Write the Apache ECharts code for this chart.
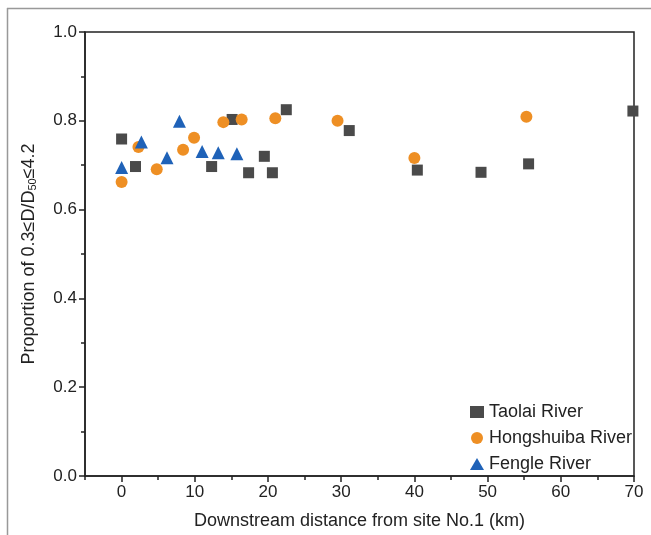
<!DOCTYPE html>
<html><head><meta charset="utf-8">
<script src="https://cdn.jsdelivr.net/npm/echarts@6/dist/echarts.min.js"></script>
<style>html,body{margin:0;padding:0;background:#fff}#c{width:651px;height:535px}</style>
</head><body><div id="c"></div>
<script>
const taolaiX = [0, 1.9, 12.3, 15.1, 17.35, 19.5, 20.6, 22.5, 31.1, 40.4, 49.1, 55.6, 69.85];
const taolaiY = [0.759, 0.697, 0.697, 0.803, 0.683, 0.720, 0.683, 0.825, 0.778, 0.689, 0.684, 0.703, 0.822];
const hongX = [0, 2.3, 4.8, 8.4, 9.9, 13.9, 16.4, 21.0, 29.5, 40.0, 55.3];
const hongY = [0.662, 0.741, 0.691, 0.735, 0.762, 0.797, 0.803, 0.806, 0.800, 0.716, 0.809];
const fengX = [0, 2.7, 6.2, 7.9, 11.0, 13.2, 15.75];
const fengY = [0.695, 0.752, 0.717, 0.799, 0.731, 0.728, 0.726];
const xMajor = [0, 10, 20, 30, 40, 50, 60, 70];
const xMinor = [-5, 5, 15, 25, 35, 45, 55, 65];
const seriesNames = ['Taolai River', 'Hongshuiba River', 'Fengle River'];

const font = 'Liberation Sans, Arial, sans-serif';
const zip = (xs, ys) => xs.map((x, i) => [x, ys[i]]);
const chart = echarts.init(document.getElementById('c'));
const axisLineStyle = {color: '#222', width: 1.5};
chart.setOption({
  animation: false,
  backgroundColor: '#fff',
  graphic: [
    {type: 'line', shape: {x1: 7, y1: 8.5, x2: 651, y2: 8.5}, style: {stroke: '#999', lineWidth: 1.5}},
    {type: 'line', shape: {x1: 7.5, y1: 8, x2: 7.5, y2: 535}, style: {stroke: '#999', lineWidth: 1.5}}
  ],
  grid: {left: 85, right: 17, top: 32, bottom: 57, show: true, borderColor: '#222', borderWidth: 1.5},
  legend: {
    orient: 'vertical', left: 465, top: 398, itemWidth: 14, itemHeight: 12, itemGap: 8,
    textStyle: {fontFamily: font, fontSize: 18, color: '#222'},
    data: seriesNames
  },
  xAxis: [{
    type: 'value', min: -5, max: 70,
    name: 'Downstream distance from site No.1 (km)', nameLocation: 'middle', nameGap: 36,
    nameTextStyle: {fontFamily: font, fontSize: 18, color: '#222'},
    axisLine: {onZero: false, lineStyle: axisLineStyle},
    axisTick: {show: true, length: 6, customValues: xMajor, lineStyle: axisLineStyle},
    axisLabel: {customValues: xMajor, fontFamily: font, fontSize: 17, color: '#222', margin: 8},
    splitLine: {show: false}
  }, {
    type: 'value', min: -5, max: 70, position: 'bottom',
    axisLine: {show: false},
    axisTick: {show: true, length: 4, customValues: xMinor, lineStyle: axisLineStyle},
    axisLabel: {show: false},
    splitLine: {show: false}
  }],
  yAxis: {
    type: 'value', min: 0, max: 1, interval: 0.2,
    name: '{t|Proportion of 0.3≤D/D}{s|50}{t|≤4.2}', nameLocation: 'middle', nameGap: 47,
    nameTextStyle: {fontFamily: font, fontSize: 18, color: '#222',
      rich: {t: {fontFamily: font, fontSize: 18, color: '#222'},
             s: {fontFamily: font, fontSize: 11, color: '#222', verticalAlign: 'bottom', padding: [7, 0, 0, 0]}}},
    axisLine: {onZero: false, lineStyle: axisLineStyle},
    axisTick: {length: 6, lineStyle: axisLineStyle},
    minorTick: {show: true, splitNumber: 2, length: 4, lineStyle: axisLineStyle},
    axisLabel: {fontFamily: font, fontSize: 17, color: '#222', margin: 8, formatter: v => v.toFixed(1)},
    splitLine: {show: false}
  },
  series: [
    {name: seriesNames[0], type: 'scatter', symbol: 'rect', symbolSize: 11, data: zip(taolaiX, taolaiY), itemStyle: {color: '#4a4a4a', opacity: 1}},
    {name: seriesNames[1], type: 'scatter', symbol: 'circle', symbolSize: 12, data: zip(hongX, hongY), itemStyle: {color: '#ee8f24', opacity: 1}},
    {name: seriesNames[2], type: 'scatter', symbol: 'triangle', symbolSize: 13, data: zip(fengX, fengY), itemStyle: {color: '#1f62b8', opacity: 1}}
  ]
});
</script></body></html>
